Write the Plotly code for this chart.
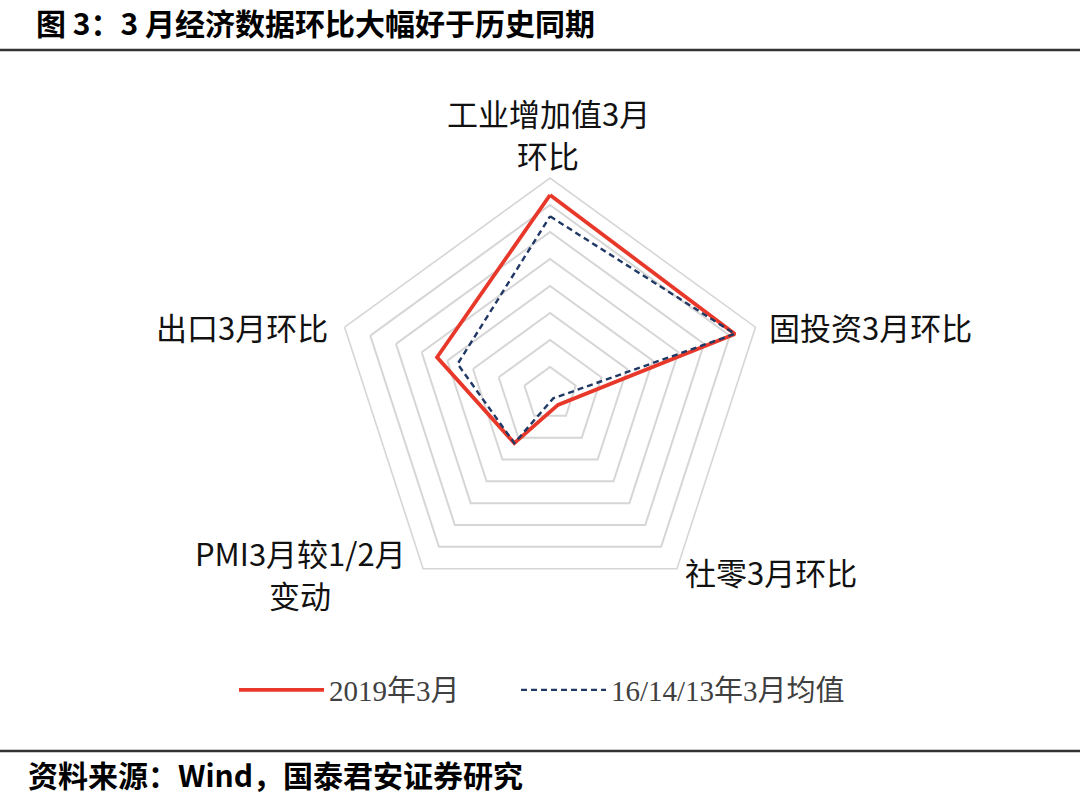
import plotly.graph_objects as go

# axis names, clockwise from the top
categories = ["工业增加值3月环比", "固投资3月环比", "社零3月环比",
              "PMI3月较1/2月变动", "出口3月环比"]
# how the names are printed round the chart (one entry per printed line)
category_lines = [["工业增加值3月", "环比"], ["固投资3月环比"], ["社零3月环比"],
                  ["PMI3月较1/2月", "变动"], ["出口3月环比"]]

# values (axis runs -4 .. 4, one ring per unit)
mar_2019 = [3.37, 3.2, -3.5, -1.75, 0.4]
avg_161413 = [2.58, 3.2, -3.8, -1.75, -0.4]

series_names = ["2019年3月", "16/14/13年3月均值"]

CJK = "Noto Sans CJK SC"
SERIF = "Liberation Serif, Noto Sans CJK SC"
W, H = 1080, 801


def px(x):
    return x / W


def py(y):
    return 1 - y / H


fig = go.Figure()

fig.add_scatterpolar(
    r=mar_2019 + mar_2019[:1],
    theta=categories + categories[:1],
    mode="lines",
    name=series_names[0],
    legend="legend",
    line=dict(color="#e8382a", width=3.8),
)
fig.add_scatterpolar(
    r=avg_161413 + avg_161413[:1],
    theta=categories + categories[:1],
    mode="lines",
    name=series_names[1],
    legend="legend2",
    line=dict(color="#1f3864", width=2.4, dash="6px,4px"),
)

legend_font = dict(family=SERIF, size=29, color="#404040")

fig.update_layout(
    width=W,
    height=H,
    margin=dict(l=0, r=0, t=0, b=0),
    paper_bgcolor="white",
    plot_bgcolor="white",
    polar=dict(
        domain=dict(x=[0.3093, 0.7093], y=[0.2385, 0.7778]),
        bgcolor="white",
        gridshape="linear",
        radialaxis=dict(
            range=[-4, 4],
            dtick=1,
            showticklabels=False,
            ticks="",
            showline=False,
            gridcolor="#d6d6d6",
            gridwidth=1.6,
        ),
        angularaxis=dict(
            direction="clockwise",
            rotation=90,
            showgrid=False,
            showticklabels=False,
            ticks="",
            linecolor="#d6d6d6",
            linewidth=1.6,
        ),
    ),
    legend=dict(x=px(234), xanchor="left", y=py(690), yanchor="middle",
                itemwidth=85, font=legend_font),
    legend2=dict(x=px(516), xanchor="left", y=py(690), yanchor="middle",
                 itemwidth=85, font=legend_font),
    showlegend=True,
)

# category names round the radar: first-line (x px, y px, anchor), 42px per line
label_pos = [
    (548, 112, "center"),
    (768, 326, "left"),
    (684, 571, "left"),
    (300, 552, "center"),
    (329, 326, "right"),
]
for lines, (lx, ly, anchor) in zip(category_lines, label_pos):
    for i, line in enumerate(lines):
        fig.add_annotation(
            x=px(lx), y=py(ly + 42 * i), xref="paper", yref="paper",
            xanchor=anchor, yanchor="middle", showarrow=False, borderpad=0,
            text=line, font=dict(family=CJK, size=31, color="#111111"),
        )

# title and source lines
fig.add_annotation(
    x=px(34), y=py(22), xref="paper", yref="paper",
    xanchor="left", yanchor="middle", showarrow=False,
    text="<b>图 3：3 月经济数据环比大幅好于历史同期</b>",
    font=dict(family=CJK, size=30, color="#000000"),
)
fig.add_annotation(
    x=px(26), y=py(774), xref="paper", yref="paper",
    xanchor="left", yanchor="middle", showarrow=False,
    text="<b>资料来源：Wind，国泰君安证券研究</b>",
    font=dict(family=CJK, size=30, color="#000000"),
)
fig.add_shape(type="line", xref="paper", yref="paper",
              x0=0, x1=1, y0=py(50), y1=py(50),
              line=dict(color="#333333", width=2.5))
fig.add_shape(type="line", xref="paper", yref="paper",
              x0=0, x1=1, y0=py(751), y1=py(751),
              line=dict(color="#333333", width=2.5))

# the page has a default 8px body margin; drop it so the figure fills the window
fig.write_html("out.html", config={"displayModeBar": False},
               post_script="document.body.style.margin='0px';")
